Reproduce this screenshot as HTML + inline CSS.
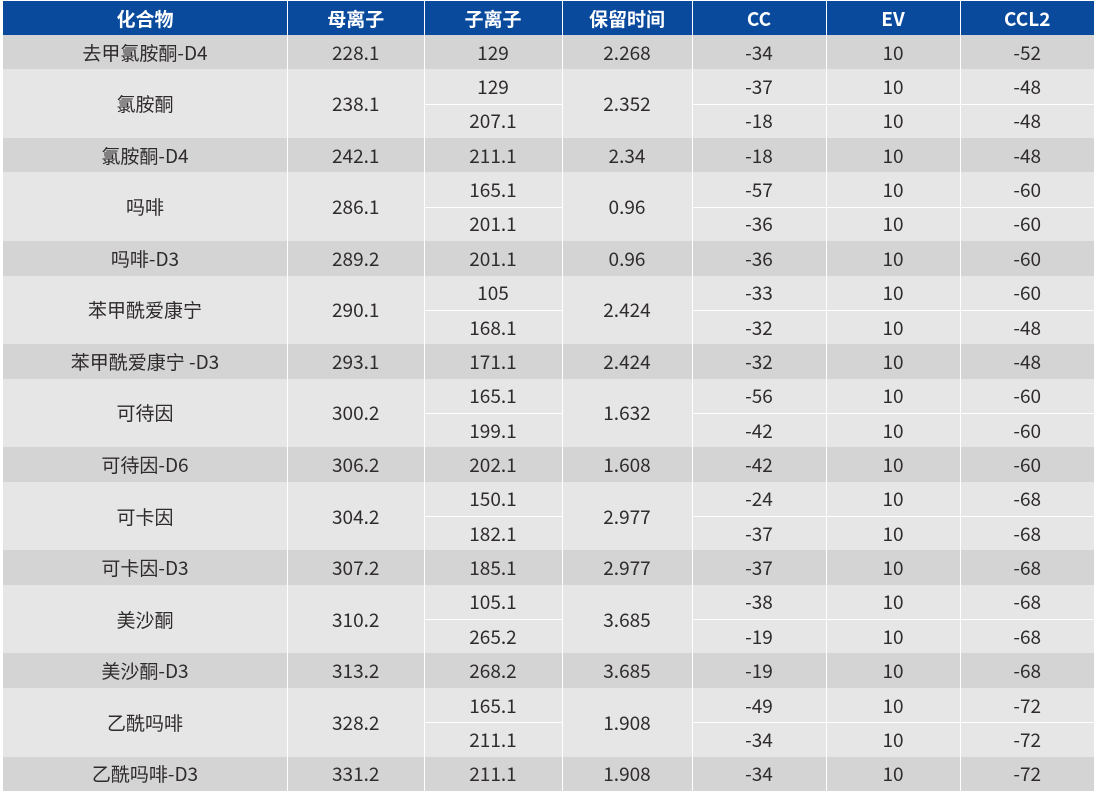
<!DOCTYPE html>
<html>
<head>
<meta charset="utf-8">
<style>
  html,body{margin:0;padding:0;background:#fff;}
  body{width:1095px;height:795px;position:relative;overflow:hidden;}
  .g{
    position:absolute;left:3px;top:1px;width:1091px;
    display:grid;
    grid-template-columns:284px 135.5px 137px 129px 133px 133px 133.5px;
    grid-template-rows:34px repeat(22, 34.36px);
    column-gap:1px;row-gap:0;
    background:#fff;
    font-family:"Liberation Sans","Noto Sans CJK SC",sans-serif;
  }
  .g div{
    display:flex;align-items:center;justify-content:center;box-sizing:border-box;
    font-family:"Noto Sans CJK SC","Liberation Sans",sans-serif;
    font-size:19px;color:#2f2b2b;white-space:nowrap;
  }
  .g .h{background:#0a4a9d;color:#fff;font-weight:bold;font-size:19px;}
  .g .d{background:#d4d4d4;}
  .g .l{background:#e6e6e6;}
  .g .s2{grid-row:span 2;}
  .g .t{border-top:1px solid #fff;padding-bottom:1px;}
</style>
</head>
<body>
<div class="g">
  <div class="h">化合物</div><div class="h">母离子</div><div class="h">子离子</div><div class="h">保留时间</div><div class="h">CC</div><div class="h">EV</div><div class="h">CCL2</div>

  <div class="d">去甲氯胺酮-D4</div><div class="d">228.1</div><div class="d">129</div><div class="d">2.268</div><div class="d">-34</div><div class="d">10</div><div class="d">-52</div>

  <div class="l s2">氯胺酮</div><div class="l s2">238.1</div><div class="l">129</div><div class="l s2">2.352</div><div class="l">-37</div><div class="l">10</div><div class="l">-48</div>
  <div class="l t">207.1</div><div class="l t">-18</div><div class="l t">10</div><div class="l t">-48</div>

  <div class="d">氯胺酮-D4</div><div class="d">242.1</div><div class="d">211.1</div><div class="d">2.34</div><div class="d">-18</div><div class="d">10</div><div class="d">-48</div>

  <div class="l s2">吗啡</div><div class="l s2">286.1</div><div class="l">165.1</div><div class="l s2">0.96</div><div class="l">-57</div><div class="l">10</div><div class="l">-60</div>
  <div class="l t">201.1</div><div class="l t">-36</div><div class="l t">10</div><div class="l t">-60</div>

  <div class="d">吗啡-D3</div><div class="d">289.2</div><div class="d">201.1</div><div class="d">0.96</div><div class="d">-36</div><div class="d">10</div><div class="d">-60</div>

  <div class="l s2">苯甲酰爱康宁</div><div class="l s2">290.1</div><div class="l">105</div><div class="l s2">2.424</div><div class="l">-33</div><div class="l">10</div><div class="l">-60</div>
  <div class="l t">168.1</div><div class="l t">-32</div><div class="l t">10</div><div class="l t">-48</div>

  <div class="d">苯甲酰爱康宁 -D3</div><div class="d">293.1</div><div class="d">171.1</div><div class="d">2.424</div><div class="d">-32</div><div class="d">10</div><div class="d">-48</div>

  <div class="l s2">可待因</div><div class="l s2">300.2</div><div class="l">165.1</div><div class="l s2">1.632</div><div class="l">-56</div><div class="l">10</div><div class="l">-60</div>
  <div class="l t">199.1</div><div class="l t">-42</div><div class="l t">10</div><div class="l t">-60</div>

  <div class="d">可待因-D6</div><div class="d">306.2</div><div class="d">202.1</div><div class="d">1.608</div><div class="d">-42</div><div class="d">10</div><div class="d">-60</div>

  <div class="l s2">可卡因</div><div class="l s2">304.2</div><div class="l">150.1</div><div class="l s2">2.977</div><div class="l">-24</div><div class="l">10</div><div class="l">-68</div>
  <div class="l t">182.1</div><div class="l t">-37</div><div class="l t">10</div><div class="l t">-68</div>

  <div class="d">可卡因-D3</div><div class="d">307.2</div><div class="d">185.1</div><div class="d">2.977</div><div class="d">-37</div><div class="d">10</div><div class="d">-68</div>

  <div class="l s2">美沙酮</div><div class="l s2">310.2</div><div class="l">105.1</div><div class="l s2">3.685</div><div class="l">-38</div><div class="l">10</div><div class="l">-68</div>
  <div class="l t">265.2</div><div class="l t">-19</div><div class="l t">10</div><div class="l t">-68</div>

  <div class="d">美沙酮-D3</div><div class="d">313.2</div><div class="d">268.2</div><div class="d">3.685</div><div class="d">-19</div><div class="d">10</div><div class="d">-68</div>

  <div class="l s2">乙酰吗啡</div><div class="l s2">328.2</div><div class="l">165.1</div><div class="l s2">1.908</div><div class="l">-49</div><div class="l">10</div><div class="l">-72</div>
  <div class="l t">211.1</div><div class="l t">-34</div><div class="l t">10</div><div class="l t">-72</div>

  <div class="d">乙酰吗啡-D3</div><div class="d">331.2</div><div class="d">211.1</div><div class="d">1.908</div><div class="d">-34</div><div class="d">10</div><div class="d">-72</div>
</div>
</body>
</html>
